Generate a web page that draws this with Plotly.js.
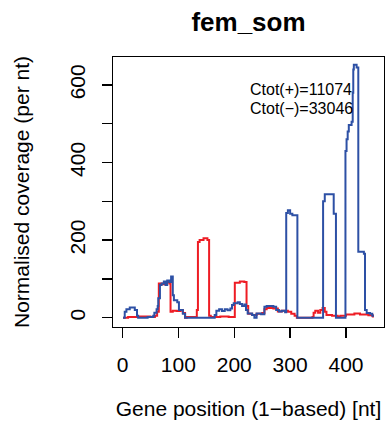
<!DOCTYPE html>
<html>
<head>
<meta charset="utf-8">
<script src="https://cdn.plot.ly/plotly-3.0.1.min.js"></script>
<style>html,body{margin:0;padding:0;background:#fff}#chart{width:391px;height:434px}</style>
</head>
<body>
<div id="chart"></div>
<script>
// Plus strand (red) step coverage: position, value
var redPos = [1,10,30,50,58,62,65,72,76,80,84,86,90,97,104,108,112,115,133,135,138,145,152,155,158,175,190,201,210,218,222,225,232,240,250,254,258,270,278,285,296,302,308,312,340,342,345,350,354,358,362,365,375,385,390,400,415,425,440,448,450];
var redCov = [0,2,3,2,5,15,88,86,90,92,88,15,18,17,20,12,0,2,20,195,200,205,200,5,2,3,2,90,93,92,30,10,7,10,12,22,25,24,16,18,15,10,5,0,2,13,18,13,20,25,15,7,5,3,5,8,11,8,6,3,3];

// Minus strand (blue) step coverage
var bluePos = [1,4,7,13,22,26,28,45,55,57,61,63,64,67,70,74,77,80,84,87,90,92,98,101,108,112,165,168,173,178,183,188,193,196,199,206,210,214,218,221,224,232,236,240,248,254,258,270,275,280,285,291,293,296,300,304,313,359,362,378,382,399,401,403,405,410,412,413,414,419,422,432,434,437,443,447,450];
var blueCov = [0,15,22,26,20,5,0,2,5,13,22,30,50,84,88,93,84,96,92,106,58,45,40,20,10,0,7,18,22,17,22,19,24,33,37,40,35,30,34,20,11,7,0,11,9,28,30,28,20,16,18,14,270,277,268,264,0,300,318,268,0,430,460,480,497,505,580,640,652,645,170,165,20,12,10,5,5];

var xTicks = [0,100,200,300,400];
var yTicks = [0,100,200,300,400,500,600];
var yTickText = ['0','','200','','400','','600'];
var annLines = ['Ctot(+)=11074','Ctot(\u2212)=33046'];
var annY = [587,540];

var font = '"Liberation Sans", Arial, Helvetica, sans-serif';

var traces = [
  {x: redPos, y: redCov, type:'scatter', mode:'lines', line:{shape:'hv', color:'#ee1c24', width:2}, hoverinfo:'none'},
  {x: bluePos, y: blueCov, type:'scatter', mode:'lines', line:{shape:'hv', color:'#2d50a5', width:2}, hoverinfo:'none'}
];

var layout = {
  width: 391, height: 434,
  margin: {l:113, r:7, t:57, b:107, pad:0},
  paper_bgcolor:'#fff', plot_bgcolor:'#fff',
  showlegend:false,
  font:{family:font, size:21, color:'#000'},
  title:{text:'<b>fem_som</b>', font:{family:font, size:26, color:'#000'}, x:0.5, xref:'paper', y:0.95, yref:'container', yanchor:'middle'},
  xaxis:{
    range:[-17,468], showgrid:false, zeroline:false,
    showline:true, mirror:true, linecolor:'#000', linewidth:1.3,
    ticks:'outside', ticklen:10, tickwidth:1.3, tickcolor:'#000',
    tickvals:xTicks, ticktext:xTicks.map(String),
    tickfont:{family:font, size:21, color:'#000'},
    ticklabelstandoff:8,
    title:{text:'Gene position (1\u2212based) [nt]', font:{family:font, size:21, color:'#000'}, standoff:26}
  },
  yaxis:{
    range:[-24,672], showgrid:false, zeroline:false,
    showline:true, mirror:true, linecolor:'#000', linewidth:1.3,
    ticks:'outside', ticklen:10, tickwidth:1.3, tickcolor:'#000',
    tickvals:yTicks, ticktext:yTickText, tickangle:-90,
    tickfont:{family:font, size:21, color:'#000'},
    ticklabelstandoff:8,
    title:{text:'Normalised coverage (per nt)', font:{family:font, size:21, color:'#000'}, standoff:31}
  },
  annotations: annLines.map(function(t,i){
    return {text:t, x:225, y:annY[i], xref:'x', yref:'y', xanchor:'left', yanchor:'middle', showarrow:false, font:{family:font, size:16, color:'#000'}};
  })
};

Plotly.newPlot('chart', traces, layout, {displayModeBar:false, staticPlot:true});
</script>
</body>
</html>
